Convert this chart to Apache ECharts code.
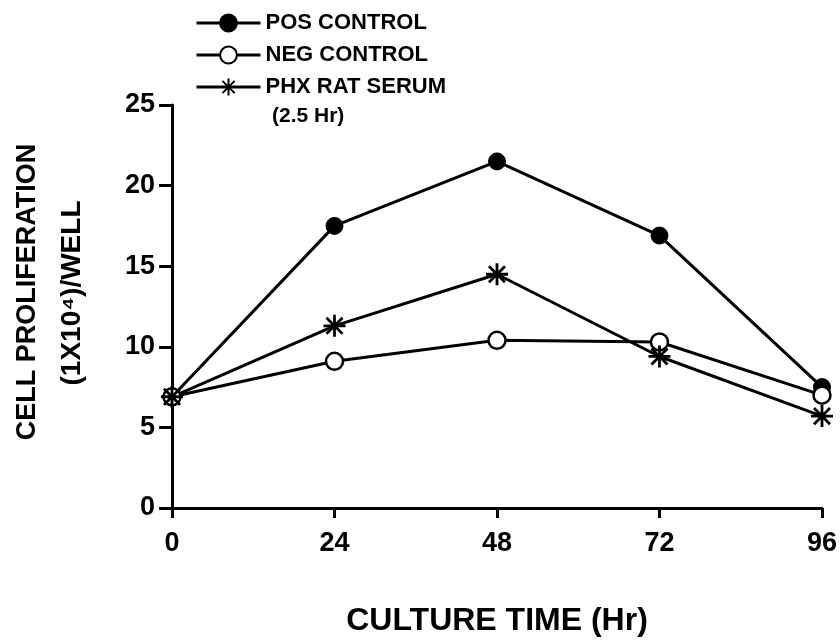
<!DOCTYPE html>
<html>
<head>
<meta charset="utf-8">
<script src="https://cdn.jsdelivr.net/npm/echarts@6/dist/echarts.min.js"></script>
<style>
html,body{margin:0;padding:0;background:#fff;}
#chart{width:840px;height:642px;}
</style>
</head>
<body>
<div id="chart"></div>
<script>
// ---- data ----
const hours = [0, 24, 48, 72, 96];
const posControl = [6.9, 17.5, 21.5, 16.9, 7.5];
const negControl = [6.9, 9.1, 10.4, 10.3, 7.0];
const phxSerum = [6.9, 11.3, 14.5, 9.4, 5.7];
const seriesNames = ['POS CONTROL', 'NEG CONTROL', 'PHX RAT SERUM'];
const legendNote = '(2.5 Hr)';
const xTitle = 'CULTURE TIME (Hr)';
const yTitle1 = 'CELL PROLIFERATION';
const yTitle2 = '(1X10\u2074)/WELL';

const FONT = '"Liberation Sans", Arial, sans-serif';
const asterisk = 'path://M0,-10L0,10M-10,0L10,0M-7.3,-7.3L7.3,7.3M-7.3,7.3L7.3,-7.3';

function pairs(vals) { return hours.map((h, i) => [h, vals[i]]); }

const chart = echarts.init(document.getElementById('chart'));
const labelStyle = { color: '#000', fontFamily: FONT, fontWeight: 'bold', fontSize: 27 };
const lineStyleAxis = { color: '#000', width: 3 };
chart.setOption({
  backgroundColor: '#fff',
  animation: false,
  grid: { left: 172, right: 17, top: 105, bottom: 132, containLabel: false },
  xAxis: {
    type: 'value', min: 0, max: 96, interval: 24,
    axisLine: { show: true, lineStyle: lineStyleAxis },
    axisTick: { show: true, inside: false, length: 10, lineStyle: lineStyleAxis },
    axisLabel: Object.assign({}, labelStyle, { margin: 22 }),
    splitLine: { show: false },
    name: xTitle, nameLocation: 'middle', nameGap: 97,
    nameTextStyle: { color: '#000', fontFamily: FONT, fontWeight: 'bold', fontSize: 32 }
  },
  yAxis: {
    type: 'value', min: 0, max: 25, interval: 5,
    axisLine: { show: true, lineStyle: lineStyleAxis },
    axisTick: { show: true, inside: false, length: 13, lineStyle: lineStyleAxis },
    axisLabel: Object.assign({}, labelStyle, { margin: 17 }),
    splitLine: { show: false }
  },
  legend: {
    orient: 'vertical', left: 195, top: 12, padding: 0,
    itemWidth: 64, itemHeight: 21, itemGap: 10,
    textStyle: { color: '#000', fontFamily: FONT, fontWeight: 'bold', fontSize: 22 },
    lineStyle: { width: 3 },
    data: seriesNames
  },
  graphic: [
    { type: 'text', left: 272, top: 106,
      style: { text: legendNote, fill: '#000', font: 'bold 21px ' + FONT } },
    { type: 'text', x: 28, y: 292, rotation: Math.PI / 2,
      style: { text: yTitle1, fill: '#000', font: 'bold 27px ' + FONT, textAlign: 'center', textVerticalAlign: 'middle' } },
    { type: 'text', x: 72, y: 293, rotation: Math.PI / 2,
      style: { text: yTitle2, fill: '#000', font: 'bold 28px ' + FONT, textAlign: 'center', textVerticalAlign: 'middle' } }
  ],
  series: [
    { name: seriesNames[0], type: 'line', data: pairs(posControl),
      symbol: 'circle', symbolSize: 17,
      lineStyle: { color: '#000', width: 3 },
      itemStyle: { color: '#000', borderColor: '#000', borderWidth: 1 } },
    { name: seriesNames[1], type: 'line', data: pairs(negControl),
      symbol: 'circle', symbolSize: 17,
      lineStyle: { color: '#000', width: 3 },
      itemStyle: { color: '#fff', borderColor: '#000', borderWidth: 2.5 } },
    { name: seriesNames[2], type: 'line', data: pairs(phxSerum),
      symbol: asterisk, symbolSize: 22, z: 3,
      lineStyle: { color: '#000', width: 3 },
      itemStyle: { color: '#000', borderColor: '#000', borderWidth: 2.8 } }
  ]
});
</script>
</body>
</html>
